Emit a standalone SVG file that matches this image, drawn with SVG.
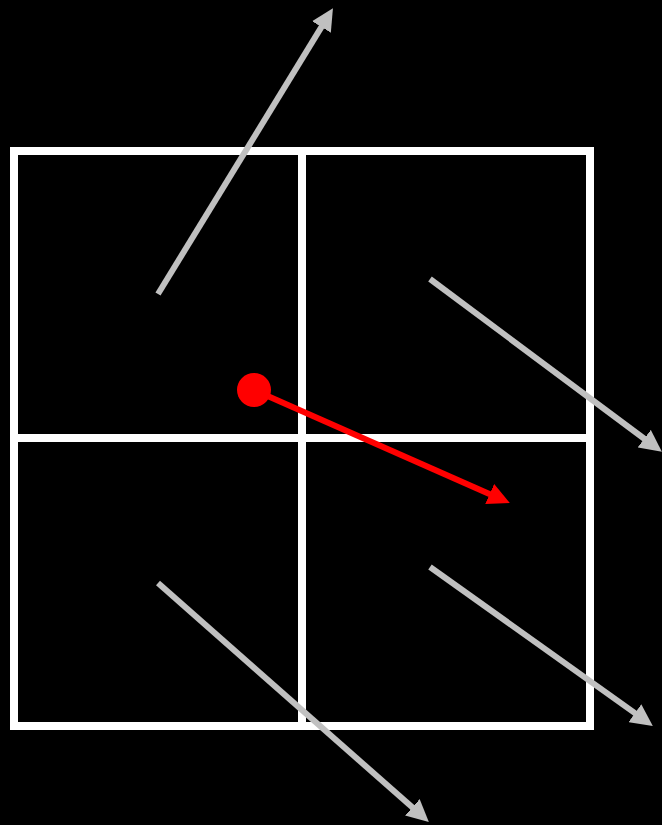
<svg xmlns="http://www.w3.org/2000/svg" width="662" height="825" viewBox="0 0 662 825">
<defs>
<style>
.grid{fill:none;stroke:#fff;stroke-width:8}
.g{stroke:#c0c0c0;stroke-width:6;fill:none}
.r{stroke:#ff0000;stroke-width:6;fill:none}
</style>
<marker id="ag" viewBox="0 0 10 10" refX="1" refY="5" markerWidth="22" markerHeight="22" markerUnits="userSpaceOnUse" orient="auto"><path d="M0,0 L10,5 L0,10 Z" fill="#c0c0c0"/></marker>
<marker id="ar" viewBox="0 0 10 10" refX="1" refY="5" markerWidth="22" markerHeight="22" markerUnits="userSpaceOnUse" orient="auto"><path d="M0,0 L10,5 L0,10 Z" fill="#ff0000"/></marker>
</defs>
<rect width="662" height="825" fill="#000"/>
<g id="grid">
<rect class="grid" x="14" y="151" width="576" height="575"/>
<line class="grid" x1="302" y1="151" x2="302" y2="726"/>
<line class="grid" x1="14" y1="438" x2="590" y2="438"/>
</g>
<g id="connectors">
<line class="g" x1="158" y1="294" x2="322.6" y2="25.1" marker-end="url(#ag)"/>
<line class="g" x1="430" y1="279" x2="646" y2="440" marker-end="url(#ag)"/>
<line class="g" x1="430" y1="567" x2="636.7" y2="714.4" marker-end="url(#ag)"/>
<line class="g" x1="158" y1="583" x2="414" y2="808.8" marker-end="url(#ag)"/>
<line class="r" x1="254" y1="390" x2="491.7" y2="494.9" marker-end="url(#ar)"/>
</g>
<g id="point">
<circle cx="254" cy="390" r="17" fill="#ff0000"/>
</g>
</svg>
